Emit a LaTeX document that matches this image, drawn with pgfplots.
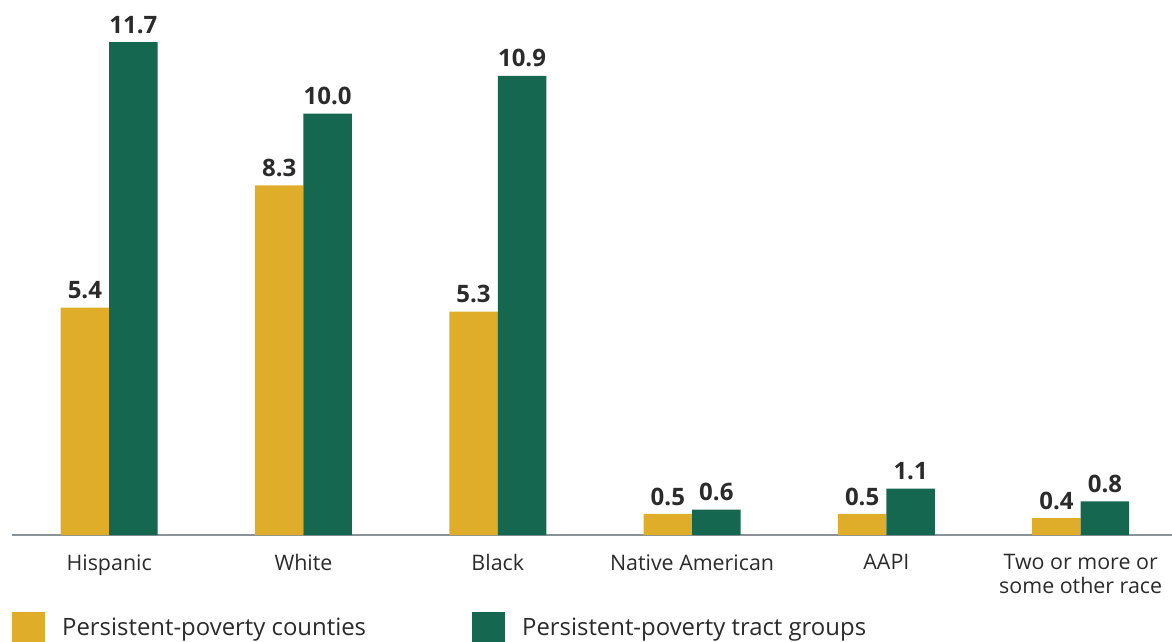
\documentclass[border=0pt]{standalone}
\usepackage{fontspec}
\setmainfont{Open Sans}
\usepackage{pgfplots}
\pgfplotsset{compat=1.18}
\definecolor{gold}{HTML}{DFAD29}
\definecolor{pine}{HTML}{16674F}
\definecolor{txt}{HTML}{2B2B2B}
\definecolor{axisgray}{HTML}{8A9299}

\pgfplotstableread{
x counties tracts
0 5.4 11.7
1 8.3 10.0
2 5.3 10.9
3 0.5 0.6
4 0.5 1.1
5 0.4 0.8
}\racedata

\begin{document}
\begin{tikzpicture}
\useasboundingbox (-12pt,-107pt) rectangle (1160pt,535pt);
\begin{axis}[
    scale only axis,
    width=1160pt, height=535pt,
    xmin=-0.5, xmax=5.47,
    ymin=0, ymax=12.7,
    axis x line*=bottom,
    axis y line=none,
    x axis line style={draw=axisgray, line width=1.2pt, -},
    xtick=data,
    xticklabels={Hispanic, White, Black, Native American, AAPI, {Two or more or\\some other race}},
    major tick length=0pt,
    xticklabel style={font=\fontsize{21.4}{24}\selectfont, text=txt, align=center, anchor=north, yshift=-16pt},
    ybar, bar width=48.5pt,
    nodes near coords,
    nodes near coords style={font=\fontsize{24}{26}\selectfont\bfseries, text=txt, yshift=5pt, /pgf/number format/fixed, /pgf/number format/fixed zerofill, /pgf/number format/precision=1, /pgf/number format/assume math mode=true},
    legend style={at={(0,-77pt)}, anchor=north west, draw=none, fill=none, inner sep=0pt,
        legend columns=2, font=\fontsize{23.9}{26}\selectfont, text=txt,
        nodes={inner sep=0pt},
        /tikz/every odd column/.append style={column sep=17pt},
        /tikz/every even column/.append style={column sep=106pt}},
    legend image code/.code={\fill[#1] (0pt,-15pt) rectangle (33pt,15pt);},
]
\addplot[fill=gold, draw=none, bar shift=-24.25pt] table[x=x, y=counties] {\racedata};
\addplot[fill=pine, draw=none, bar shift=24.25pt] table[x=x, y=tracts] {\racedata};
\legend{Persistent-poverty counties, Persistent-poverty tract groups}
\end{axis}
\end{tikzpicture}
\end{document}
